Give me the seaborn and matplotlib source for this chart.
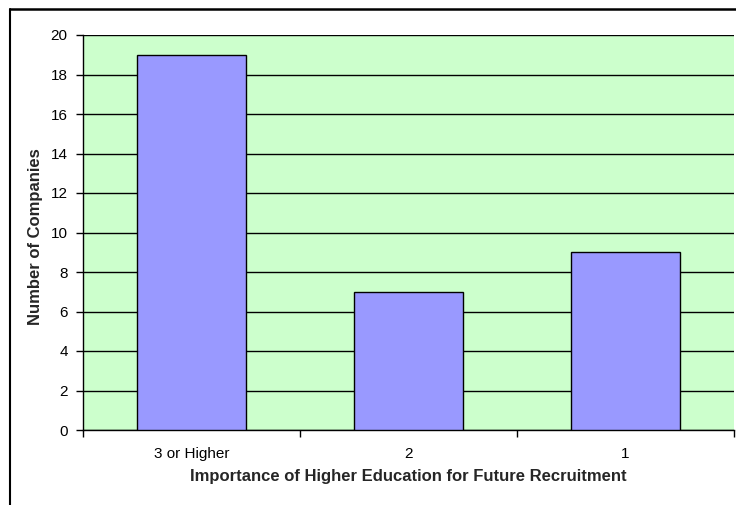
import matplotlib
matplotlib.use("Agg")
import matplotlib.pyplot as plt
from matplotlib.lines import Line2D
from matplotlib.ticker import FixedLocator
import seaborn as sns
import pandas as pd

categories = ["3 or Higher", "2", "1"]
companies = [19, 7, 9]
y_ticks = list(range(0, 21, 2))

sns.set_theme(style="white")
plt.rcParams["font.family"] = ["Liberation Sans", "DejaVu Sans"]

W, H = 736, 505
fig = plt.figure(figsize=(W / 100, H / 100), dpi=100)
fig.patch.set_facecolor("white")

ax = fig.add_axes([83 / W, (H - 430) / H, 651 / W, 395 / H])
ax.set_facecolor("#CCFFCC")

df = pd.DataFrame({"category": categories, "companies": companies})
sns.barplot(data=df, x="category", y="companies", color="#9999FF",
            saturation=1, edgecolor="black", linewidth=1.0, width=0.5,
            ax=ax, zorder=3)

ax.set_xlim(-0.5, 2.5)
ax.set_ylim(0, 20)
ax.set_yticks(y_ticks)
ax.yaxis.grid(True, color="black", linewidth=1.0, zorder=1)
ax.set_axisbelow(True)

ax.xaxis.set_minor_locator(FixedLocator([-0.5, 0.5, 1.5, 2.5]))
ax.tick_params(axis="x", which="major", length=0, pad=12, labelsize=11,
               colors="black")
ax.tick_params(axis="x", which="minor", length=5, width=1, direction="out",
               color="black", bottom=True)
ax.tick_params(axis="y", length=5, width=1, direction="out", left=True,
               labelsize=11, colors="black", pad=6)

for side in ("top", "right"):
    ax.spines[side].set_visible(False)
for side in ("left", "bottom"):
    ax.spines[side].set_color("black")
    ax.spines[side].set_linewidth(1.0)

ax.set_xlabel("Importance of Higher Education for Future Recruitment",
              fontsize=12, fontweight="bold", va="center")
ax.set_ylabel("Number of Companies", fontsize=12, fontweight="bold",
              va="center")
ax.xaxis.set_label_coords(0.5, (430 - 476) / 395)
ax.yaxis.set_label_coords((36 - 83) / 651, 0.5 + (232 - 236) / 395)

# chart frame: left and top edges
fig.add_artist(Line2D([10 / W, 10 / W], [(H - 9) / H, -0.05],
                      transform=fig.transFigure, color="black", linewidth=1.5))
fig.add_artist(Line2D([10 / W, 1.05], [(H - 9) / H, (H - 9) / H],
                      transform=fig.transFigure, color="black", linewidth=1.8))

fig.savefig("out.png", dpi=100)
